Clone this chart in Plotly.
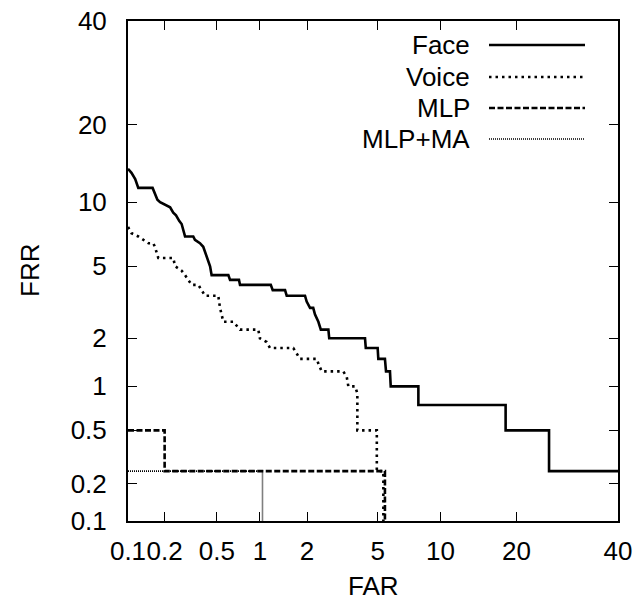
import plotly.graph_objects as go
from statistics import NormalDist

# ---------------- data (percent) ----------------
tick_values = [0.1, 0.2, 0.5, 1, 2, 5, 10, 20, 40]
tick_labels = ["0.1", "0.2", "0.5", "1", "2", "5", "10", "20", "40"]

face_far = [0.10, 0.107, 0.115, 0.122, 0.160, 0.175, 0.184, 0.201, 0.221, 0.234, 0.246,
            0.261, 0.272, 0.289, 0.298, 0.334, 0.344, 0.375, 0.397, 0.416, 0.433, 0.446,
            0.458, 0.605, 0.622, 0.719, 0.731, 1.18, 1.215, 1.459, 1.495, 1.944, 1.99,
            2.086, 2.18, 2.235, 2.34, 2.42, 2.68, 2.71, 4.29, 4.33, 5.00, 5.04, 5.45,
            5.52, 5.78, 5.83, 7.94, 7.94, 18.3, 18.3, 25.7, 25.7, 40]
face_frr = [13.75, 13.25, 12.5, 11.5, 11.5, 10.25, 10.0, 9.75, 9.5, 9.0, 8.75,
            8.25, 8.0, 7.0, 7.0, 7.0, 6.75, 6.5, 6.25, 5.75, 5.25, 5.0,
            4.5, 4.5, 4.25, 4.25, 4.0, 4.0, 3.75, 3.75, 3.5, 3.5, 3.25,
            3.0, 3.0, 2.75, 2.5, 2.25, 2.25, 2.0, 2.0, 1.75, 1.75, 1.5, 1.5,
            1.25, 1.25, 1.0, 1.0, 0.75, 0.75, 0.5, 0.5, 0.25, 0.25]

voice_far = [0.10, 0.107, 0.122, 0.134, 0.148, 0.162, 0.167, 0.178, 0.234, 0.242,
             0.272, 0.289, 0.325, 0.365, 0.409, 0.512, 0.527, 0.557, 0.656, 0.731,
             0.975, 1.0, 1.11, 1.166, 1.645, 1.81, 2.29, 2.34, 2.45, 3.26,
             3.41, 3.48, 3.79, 3.90, 3.90, 4.95, 4.95, 5.35, 5.35]
voice_frr = [7.75, 7.25, 7.0, 6.75, 6.5, 6.5, 6.25, 5.5, 5.5, 5.0,
             4.75, 4.5, 4.0, 4.0, 3.5, 3.5, 3.0, 2.5, 2.5, 2.25,
             2.25, 2.0, 1.9, 1.75, 1.75, 1.5, 1.5, 1.4, 1.25, 1.25,
             1.15, 1.0, 1.0, 0.9, 0.5, 0.5, 0.25, 0.25, 0.0]

mlp_far = [0.1, 0.2, 0.2, 5.45, 5.45]
mlp_frr = [0.5, 0.5, 0.25, 0.25, 0.0]

mlpma_far = [0.1, 1.04, 1.04]
mlpma_frr = [0.25, 0.25, 0.0]

series_names = ["Face", "Voice", "MLP", "MLP+MA"]

# ---------------- helpers ----------------
ND = NormalDist()


def probit(pct):
    p = min(max(pct / 100.0, 1e-6), 1 - 1e-6)
    return ND.inv_cdf(p)


def tr(vals):
    return [probit(v) for v in vals]


FONT = "Liberation Sans, Arial, Helvetica, sans-serif"
FS = 26

styles = [
    dict(color="black", width=2.6, dash="solid"),
    dict(color="black", width=2.6, dash="2.5px,4px"),
    dict(color="black", width=2.6, dash="6px,2.5px"),
    dict(color="black", width=1.6, dash="1px,1px"),
]

fig = go.Figure()
data = [(face_far, face_frr), (voice_far, voice_frr), (mlp_far, mlp_frr), (mlpma_far, mlpma_frr)]
order = [3, 2, 1, 0]
for i in order:
    fx, fy = data[i]
    fig.add_trace(go.Scatter(x=tr(fx), y=tr(fy), mode="lines", name=series_names[i],
                             line=styles[i], showlegend=False, hoverinfo="skip"))

axis_common = dict(
    range=[probit(0.1), probit(40)],
    tickvals=tr(tick_values),
    ticktext=tick_labels,
    ticks="inside",
    ticklen=9,
    tickwidth=1.3,
    tickcolor="black",
    showline=True,
    linecolor="black",
    linewidth=2,
    mirror="ticks",
    showgrid=False,
    zeroline=False,
    tickfont=dict(family=FONT, size=FS, color="black"),
    tickangle=0,
    automargin=False,
)

fig.update_xaxes(**axis_common, ticklabelstandoff=6)
fig.update_yaxes(**axis_common, ticklabelstandoff=14)

L, R, T, B = 128, 19, 21, 86
W, H = 637, 607
pw, ph = W - L - R, H - T - B


def px_x(x):
    return (x - L) / pw


def px_y(y):
    return (H - B - y) / ph


annotations = [
    dict(text="FAR", x=0.5, y=px_y(586), xref="paper", yref="paper", showarrow=False,
         font=dict(family=FONT, size=FS, color="black"), xanchor="center", yanchor="middle"),
    dict(text="FRR", x=px_x(30), y=0.5, xref="paper", yref="paper", showarrow=False,
         textangle=-90, font=dict(family=FONT, size=FS, color="black"),
         xanchor="center", yanchor="middle"),
]
shapes = []
rows = [45, 77, 108, 139]
for name, st, ry in zip(series_names, styles, rows):
    annotations.append(dict(text=name, x=px_x(472), y=px_y(ry), xref="paper", yref="paper",
                            showarrow=False, xanchor="right", yanchor="middle",
                            font=dict(family=FONT, size=FS, color="black")))
    shapes.append(dict(type="line", xref="paper", yref="paper",
                       x0=px_x(489), x1=px_x(585), y0=px_y(ry), y1=px_y(ry),
                       line=dict(color="black", width=st["width"], dash=st["dash"])))

fig.update_layout(
    width=W, height=H,
    margin=dict(l=L, r=R, t=T, b=B, autoexpand=False),
    plot_bgcolor="white", paper_bgcolor="white",
    showlegend=False,
    annotations=annotations,
    shapes=shapes,
    font=dict(family=FONT, size=FS, color="black"),
)

fig.write_html("out.html", config={"displayModeBar": False},
               post_script="document.body.style.margin='0';document.body.style.overflow='hidden';")
